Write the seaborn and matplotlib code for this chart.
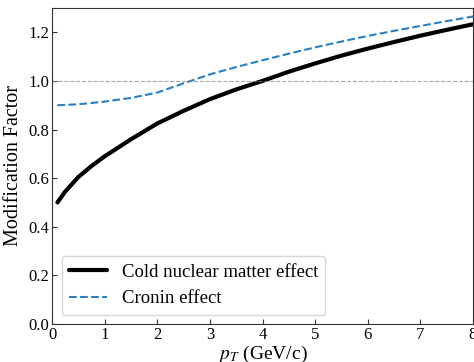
import numpy as np
import pandas as pd
import matplotlib
matplotlib.use("Agg")
import matplotlib.pyplot as plt
import seaborn as sns

# valores
pt = [0.1, 0.25, 0.5, 0.75, 1.0, 1.5, 2.0, 2.5, 3.0, 3.5, 4.0, 4.5,
      5.0, 5.5, 6.0, 6.5, 7.0, 7.5, 8.0]
cnm = [0.50, 0.545, 0.605, 0.65, 0.69, 0.76, 0.825, 0.877, 0.925, 0.965,
       1.00, 1.038, 1.072, 1.104, 1.133, 1.16, 1.186, 1.21, 1.233]
cronin = [0.900, 0.901, 0.904, 0.909, 0.915, 0.930, 0.952, 0.99, 1.027,
          1.057, 1.085, 1.112, 1.138, 1.162, 1.185, 1.206, 1.226, 1.246, 1.265]

df = pd.DataFrame({'pt': pt, 'cnm': cnm, 'cronin': cronin})

sns.set_style("ticks")
plt.rcParams['font.family'] = ['Liberation Serif', 'DejaVu Serif']
plt.rcParams['mathtext.fontset'] = 'stix'
plt.rcParams['text.color'] = 'black'
plt.rcParams['axes.labelcolor'] = 'black'
plt.rcParams['xtick.color'] = '#333333'
plt.rcParams['ytick.color'] = '#333333'
plt.rcParams['xtick.labelcolor'] = 'black'
plt.rcParams['ytick.labelcolor'] = 'black'
plt.rcParams['axes.edgecolor'] = '#333333'

fig, ax = plt.subplots(figsize=(4.74, 3.62), dpi=100)
fig.subplots_adjust(left=0.110, right=0.998, top=0.978, bottom=0.105)

sns.lineplot(data=df, x='pt', y='cnm', ax=ax, color='black', linewidth=3,
             label='Cold nuclear matter effect')
sns.lineplot(data=df, x='pt', y='cronin', ax=ax, color='#2a7fc0', linewidth=1.5,
             linestyle='--', label='Cronin effect')
ax.axhline(1.0, color='gray', linestyle='--', linewidth=0.8, alpha=0.7)

ax.set_xlim(0, 8)
ax.set_ylim(0, 1.3)
ax.set_xticks(range(0, 9))
ax.set_yticks([0.0, 0.2, 0.4, 0.6, 0.8, 1.0, 1.2])
ax.tick_params(direction='in', labelsize=12, pad=2)
ax.set_xlabel(r'$p_T$ (GeV/c)', fontsize=14, labelpad=1)
ax.set_ylabel('Modification Factor', fontsize=14.5)
for s in ax.spines.values():
    s.set_visible(True)

ax.legend(loc='lower left', fontsize=13.5)

plt.savefig('out.png', dpi=100)
